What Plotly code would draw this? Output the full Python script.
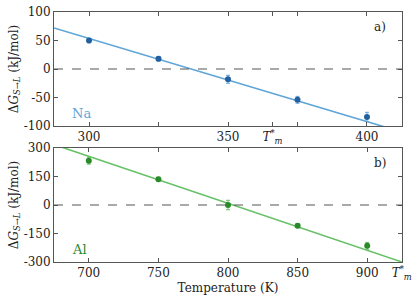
import plotly.graph_objects as go
from plotly.subplots import make_subplots

# Na data
na_T = [300, 325, 350, 375, 400]
na_dG = [50, 18, -18, -54, -84]
na_err = [4, 4, 7, 6, 8]
na_fit_T = [287.4, 412.6]
na_fit_dG = [72.0, -110.7]
na_Tm = 366

# Al data
al_T = [700, 750, 800, 850, 900]
al_dG = [233, 136, 0, -109, -215]
al_err = [18, 10, 25, 10, 18]
al_fit_T = [675, 925]
al_fit_dG = [318, -300]
al_Tm = 924.8

na_line_c = "#5ea5d8"
na_mark_c = "#22609f"
al_line_c = "#67c167"
al_mark_c = "#2a8a2a"
FONT = "DejaVu Serif"
TXT = "#222222"
TM = "<i>T</i><sup>*</sup><sub><i>m</i></sub>"

fig = make_subplots(rows=2, cols=1, vertical_spacing=0.088)

fig.add_trace(go.Scatter(x=na_fit_T, y=na_fit_dG, mode="lines",
                         line=dict(color=na_line_c, width=1.6), showlegend=False), 1, 1)
fig.add_trace(go.Scatter(x=na_T, y=na_dG, mode="markers",
                         marker=dict(color=na_mark_c, size=6),
                         error_y=dict(type="data", array=na_err, color=na_line_c, thickness=1, width=2),
                         showlegend=False), 1, 1)
fig.add_trace(go.Scatter(x=al_fit_T, y=al_fit_dG, mode="lines",
                         line=dict(color=al_line_c, width=1.6), showlegend=False), 2, 1)
fig.add_trace(go.Scatter(x=al_T, y=al_dG, mode="markers",
                         marker=dict(color=al_mark_c, size=6),
                         error_y=dict(type="data", array=al_err, color=al_line_c, thickness=1, width=2),
                         showlegend=False), 2, 1)

fig.add_hline(y=0, line=dict(color="#555555", width=1, dash="dash"), row=1, col=1)
fig.add_hline(y=0, line=dict(color="#555555", width=1, dash="dash"), row=2, col=1)

axis_common = dict(showgrid=False, zeroline=False, showline=True, linecolor="#555555",
                   linewidth=1, mirror="ticks", ticks="inside", ticklen=4, tickcolor="#555555",
                   automargin=False,
                   tickfont=dict(family=FONT, size=12, color=TXT))

fig.update_xaxes(range=[287.4, 412.6], tickvals=[300, 325, 350, na_Tm, 375, 400],
                 ticktext=["300", "", "350", TM, "", "400"], domain=[0, 1], **axis_common, row=1, col=1)
fig.update_xaxes(range=[675, 925], tickvals=[700, 750, 800, 850, 900, al_Tm],
                 ticktext=["700", "750", "800", "850", "900", TM], domain=[0, 1], **axis_common,
                 title=dict(text="Temperature (K)", font=dict(family=FONT, size=12, color=TXT),
                            standoff=2), row=2, col=1)
ytitle = "Δ<i>G</i><sub><i>S</i>→<i>L</i></sub> (kJ/mol)"
fig.update_yaxes(range=[-100, 100], tickvals=[100, 50, 0, -50, -100],
                 ticktext=["100", "50", "0", "-50", "-100"], domain=[0.544, 1.0], **axis_common,
                 title=dict(text=ytitle, font=dict(family=FONT, size=12, color=TXT), standoff=2),
                 row=1, col=1)
fig.update_yaxes(range=[-300, 300], tickvals=[300, 150, 0, -150, -300],
                 ticktext=["300", "150", "0", "-150", "-300"], domain=[0, 0.456], **axis_common,
                 title=dict(text=ytitle, font=dict(family=FONT, size=12, color=TXT), standoff=2),
                 row=2, col=1)

ann_font = dict(family=FONT, size=12, color=TXT)
fig.add_annotation(text="a)", xref="x domain", yref="y domain", x=0.96, y=0.95,
                   xanchor="right", yanchor="top", showarrow=False, font=ann_font)
fig.add_annotation(text="b)", xref="x2 domain", yref="y2 domain", x=0.96, y=0.95,
                   xanchor="right", yanchor="top", showarrow=False, font=ann_font)
fig.add_annotation(text="Na", xref="x domain", yref="y domain", x=0.045, y=0.03,
                   xanchor="left", yanchor="bottom", showarrow=False,
                   font=dict(family=FONT, size=13, color=na_line_c))
fig.add_annotation(text="Al", xref="x2 domain", yref="y2 domain", x=0.045, y=0.03,
                   xanchor="left", yanchor="bottom", showarrow=False,
                   font=dict(family=FONT, size=13, color=al_mark_c))

fig.update_layout(width=415, height=306, margin=dict(l=54, r=13, t=12, b=44),
                  plot_bgcolor="white", paper_bgcolor="white")

# remove the page's default body margin so the figure sits at the window's corner
fig.write_html("out.html", config={"displayModeBar": False},
               post_script="document.body.style.margin='0';document.body.style.overflow='hidden';")
